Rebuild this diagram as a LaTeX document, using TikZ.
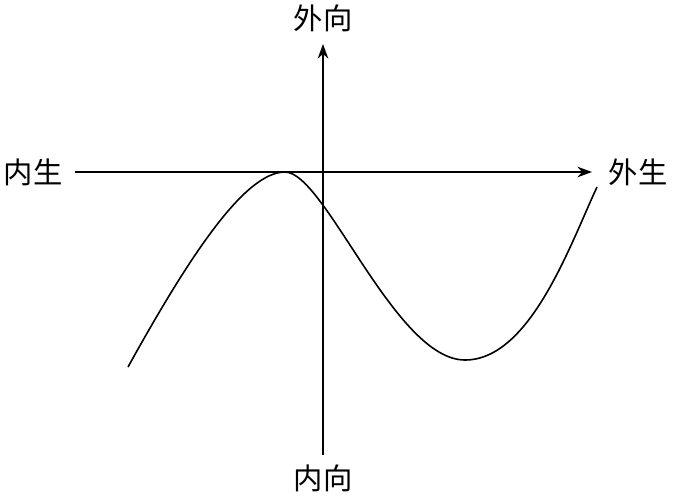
\documentclass[tikz,border=0pt]{standalone}
\usepackage{fontspec}
\newfontfamily\cjk{Noto Sans CJK SC}
\usetikzlibrary{arrows.meta}
\begin{document}
\begin{tikzpicture}[x=0.75pt,y=-0.75pt,
  lbl/.style={font=\cjk\fontsize{22}{26}\selectfont,inner sep=0pt},
  axis/.style={line width=1.2pt,-{Stealth[length=11pt,width=8pt]}}]
\useasboundingbox (0,0) rectangle (674,497);
\node[lbl] (top) at (323,18) {外向};
\node[lbl] (bot) at (323,478) {内向};
\node[lbl] (left) at (33,172) {内生};
\node[lbl] (right) at (638,172) {外生};
\coordinate (vb) at (323,455);
\coordinate (vt) at (323,44);
\coordinate (hl) at (75,172);
\coordinate (hr) at (592,172);
\draw[axis] (vb) -- (vt);
\draw[axis] (hl) -- (hr);
\coordinate (c0) at (128,367);
\coordinate (c1) at (285,172);
\coordinate (c2) at (465,360);
\coordinate (c3) at (597,187);
\draw[line width=1.2pt] (c0) .. controls (190,255) and (245,172) .. (c1)
  .. controls (325,172) and (395,360) .. (c2)
  .. controls (530,360) and (570,245) .. (c3);
\end{tikzpicture}
\end{document}
